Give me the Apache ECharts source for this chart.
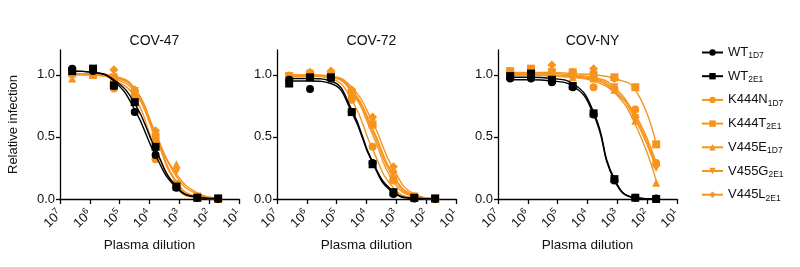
<!DOCTYPE html>
<html lang="en">
<head>
<meta charset="UTF-8">
<title>neutralization curves</title>
<script src="https://cdn.jsdelivr.net/npm/echarts@6/dist/echarts.min.js"></script>
</head>
<body style="margin:0;background:#fff">
<div id="container" style="width:800px;height:267px;"></div>
<script>
// plasma dilution series (5-fold from 1:50)
var dilutions = [3906250, 781250, 156250, 31250, 6250, 1250, 250, 50];
var panels = ['COV-47', 'COV-72', 'COV-NY'];
var variants = ['WT 1D7', 'WT 2E1', 'K444N 1D7', 'K444T 2E1', 'V445E 1D7', 'V455G 2E1', 'V445L 2E1'];
var xTicks = [1e7, 1e6, 1e5, 1e4, 1e3, 1e2, 1e1];

// measured points, one row per variant
var cov47Points = [
  [1.05, 1.03, 0.91, 0.70, 0.355, 0.09, 0.01, 0.0],
  [1.03, 1.05, 0.915, 0.78, 0.42, 0.10, 0.01, 0.005],
  [1.02, 1.00, 0.89, 0.80, 0.32, 0.10, 0.01, 0.0],
  [1.01, 1.00, 0.97, 0.85, 0.50, 0.12, 0.01, 0.0],
  [0.97, 1.00, 0.97, 0.87, 0.48, 0.28, 0.02, 0.0],
  [1.00, 1.00, 0.98, 0.87, 0.52, 0.22, 0.02, 0.0],
  [1.01, 1.00, 1.04, 0.88, 0.55, 0.12, 0.01, 0.0]
];
var cov72Points = [
  [0.96, 0.885, 0.97, 0.70, 0.29, 0.04, 0.005, 0.0],
  [0.93, 0.98, 0.98, 0.70, 0.28, 0.055, 0.01, 0.005],
  [0.98, 0.99, 1.00, 0.80, 0.42, 0.15, 0.01, 0.0],
  [0.99, 1.00, 0.99, 0.85, 0.60, 0.16, 0.01, 0.0],
  [1.00, 1.00, 1.00, 0.84, 0.62, 0.24, 0.02, 0.0],
  [0.99, 1.01, 0.99, 0.86, 0.63, 0.20, 0.02, 0.0],
  [0.99, 1.02, 1.03, 0.88, 0.66, 0.26, 0.02, 0.0]
];
var covNYPoints = [
  [0.97, 0.97, 0.94, 0.90, 0.68, 0.15, 0.01, 0.005],
  [0.99, 1.01, 0.96, 0.91, 0.69, 0.16, 0.01, 0.0],
  [1.00, 1.00, 0.99, 1.00, 0.90, 0.89, 0.72, 0.29],
  [1.03, 1.05, 1.02, 1.02, 1.00, 0.98, 0.90, 0.44],
  [1.00, 1.00, 1.00, 0.98, 0.97, 0.88, 0.63, 0.13],
  [1.00, 1.01, 1.02, 1.00, 0.99, 0.90, 0.65, 0.25],
  [1.02, 1.03, 1.08, 1.02, 1.05, 0.97, 0.66, 0.27]
];

// fitted curve values read at the same dilutions
var cov47Fit = [
  [1.03, 1.02, 0.95, 0.72, 0.35, 0.09, 0.015, 0.002],
  [1.03, 1.02, 0.96, 0.77, 0.40, 0.10, 0.015, 0.002],
  [1.01, 1.00, 0.96, 0.82, 0.40, 0.09, 0.01, 0.001],
  [1.01, 1.00, 0.98, 0.88, 0.50, 0.13, 0.02, 0.002],
  [1.00, 1.00, 0.97, 0.86, 0.50, 0.20, 0.05, 0.01],
  [1.00, 1.00, 0.98, 0.88, 0.53, 0.18, 0.04, 0.008],
  [1.01, 1.01, 0.99, 0.89, 0.52, 0.14, 0.02, 0.003]
];
var cov72Fit = [
  [0.95, 0.95, 0.93, 0.70, 0.29, 0.05, 0.005, 0.001],
  [0.97, 0.97, 0.95, 0.72, 0.30, 0.06, 0.007, 0.001],
  [0.99, 0.99, 0.97, 0.80, 0.40, 0.09, 0.01, 0.001],
  [0.99, 0.99, 0.98, 0.86, 0.52, 0.14, 0.02, 0.002],
  [1.00, 1.00, 0.99, 0.88, 0.57, 0.19, 0.03, 0.004],
  [0.99, 0.99, 0.98, 0.87, 0.55, 0.17, 0.025, 0.003],
  [1.00, 1.00, 0.99, 0.90, 0.62, 0.24, 0.04, 0.005]
];
var covNYFit = [
  [0.96, 0.96, 0.95, 0.91, 0.68, 0.15, 0.01, 0.0],
  [0.98, 0.98, 0.97, 0.93, 0.70, 0.16, 0.01, 0.0],
  [1.00, 1.00, 0.99, 0.98, 0.95, 0.86, 0.68, 0.29],
  [1.02, 1.02, 1.02, 1.01, 1.00, 0.97, 0.88, 0.44],
  [1.00, 1.00, 0.99, 0.98, 0.96, 0.86, 0.60, 0.15],
  [1.00, 1.00, 1.00, 0.99, 0.97, 0.88, 0.64, 0.24],
  [1.01, 1.01, 1.01, 1.00, 0.98, 0.90, 0.66, 0.27]
];

var allPoints = [cov47Points, cov72Points, covNYPoints];
var allFits = [cov47Fit, cov72Fit, covNYFit];

var BLACK = '#000000';
var ORANGE = '#F7941D';
var colors = [BLACK, BLACK, ORANGE, ORANGE, ORANGE, ORANGE, ORANGE];
var symbols = ['circle', 'rect', 'circle', 'rect', 'triangle', 'triangle', 'diamond'];
var rotates = [0, 0, 0, 0, 0, 180, 0];
var sizes = [8, 8, 8, 8, 8, 8, 9];

var gridLeft = [60, 277, 498];

var myChart = echarts.init(document.getElementById('container'));

var grids = [], xAxes = [], yAxes = [], titles = [], series = [];
for (var p = 0; p < 3; p++) {
  grids.push({left: gridLeft[p], top: 50, width: 179, height: 149});
  titles.push({
    text: panels[p], left: gridLeft[p] + 89.5, top: 29, textAlign: 'center',
    textStyle: {fontSize: 14, fontWeight: 'normal', color: '#111', fontFamily: 'Liberation Sans'}
  });
  xAxes.push({
    type: 'log', gridIndex: p, inverse: true, min: 10, max: 1e7, logBase: 10,
    name: 'Plasma dilution', nameLocation: 'middle', nameGap: 39,
    nameTextStyle: {fontSize: 13.5, color: '#111', fontFamily: 'Liberation Sans'},
    axisLine: {lineStyle: {color: '#000', width: 1.3}},
    axisTick: {length: 5, lineStyle: {color: '#000', width: 1.3}},
    minorTick: {show: false},
    splitLine: {show: false},
    axisLabel: {
      rotate: 45, margin: 13, color: '#111', fontSize: 13, fontFamily: 'Liberation Sans',
      showMinLabel: true, showMaxLabel: true,
      formatter: function (v) { return '10{sup|' + Math.round(Math.log10(v)) + '}'; },
      rich: {sup: {fontSize: 9, padding: [0, 0, 7, 0], color: '#111', fontFamily: 'Liberation Sans'}}
    }
  });
  yAxes.push({
    type: 'value', gridIndex: p, min: 0, max: 1.2,
    name: p === 0 ? 'Relative infection' : '', nameLocation: 'middle', nameGap: 40,
    nameTextStyle: {fontSize: 13, color: '#111', fontFamily: 'Liberation Sans'},
    axisLine: {show: true, lineStyle: {color: '#000', width: 1.3}},
    axisTick: {show: true, length: 4, customValues: [0, 0.5, 1], lineStyle: {color: '#000', width: 1.3}},
    splitLine: {show: false},
    axisLabel: {
      customValues: [0, 0.5, 1], margin: 5, color: '#111', fontSize: 13, fontFamily: 'Liberation Sans',
      formatter: function (v) { return v.toFixed(1); }
    }
  });
  for (var k = variants.length - 1; k >= 0; k--) {
    var isBlack = k < 2;
    series.push({
      name: variants[k], type: 'line', xAxisIndex: p, yAxisIndex: p,
      data: dilutions.map(function (d, i) { return [d, allFits[p][k][i]]; }),
      smooth: 0.5, showSymbol: false, symbol: symbols[k], symbolRotate: rotates[k],
      symbolSize: sizes[k], itemStyle: {color: colors[k]},
      lineStyle: {color: colors[k], width: 1.4}, z: isBlack ? 4 : 2, silent: true
    });
    series.push({
      name: variants[k] + ' points', type: 'scatter', xAxisIndex: p, yAxisIndex: p,
      data: dilutions.map(function (d, i) { return [d, allPoints[p][k][i]]; }),
      symbol: symbols[k], symbolRotate: rotates[k], symbolSize: sizes[k],
      itemStyle: {color: colors[k], opacity: 1}, z: isBlack ? 5 : 3, silent: true
    });
  }
}

var option = {
  animation: false,
  textStyle: {fontFamily: 'Liberation Sans'},
  title: titles,
  grid: grids,
  xAxis: xAxes,
  yAxis: yAxes,
  legend: {
    data: variants, orient: 'vertical', left: 696, top: 41, itemGap: 9.2,
    itemWidth: 21, itemHeight: 8,
    formatter: function (name) {
      var parts = name.split(' ');
      return parts[0] + '{sub|' + parts[1] + '}';
    },
    textStyle: {
      fontSize: 13, color: '#111', fontFamily: 'Liberation Sans',
      rich: {sub: {fontSize: 8.5, padding: [7, 0, 0, 0], color: '#111', fontFamily: 'Liberation Sans'}}
    }
  },
  series: series
};
myChart.setOption(option);
</script>
</body>
</html>
